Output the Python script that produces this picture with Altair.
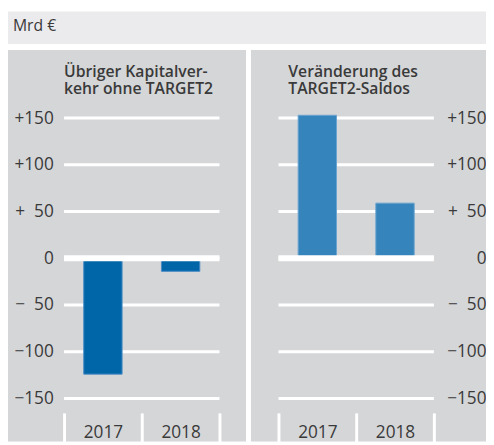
import altair as alt
import pandas as pd

# ---- data ----
years = ["2017", "2018"]
left_values = [-124, -14]      # Übriger Kapitalverkehr ohne TARGET2
right_values = [153, 59]       # Veränderung des TARGET2-Saldos
tick_values = [150, 100, 50, 0, -50, -100, -150]
tick_labels = ["+150", "+100", "+\u00a0\u00a050", "0", "\u2212\u00a0\u00a050", "\u2212100", "\u2212150"]
left_title = ["Übriger Kapitalver-", "kehr ohne TARGET2"]
right_title = ["Veränderung des", "TARGET2-Saldos"]
unit_label = "Mrd €"

FONT = "Open Sans"
TEXT = "#3a3a3a"
PANEL = "#d5d6d8"
BAND = "#ebebed"

label_expr = " : ".join(
    f"datum.value == {v} ? '{t}'" for v, t in zip(tick_values, tick_labels)
) + " : ''"

W, H = 158, 310
ydomain = [-165.5, 160.8]


def panel(values, color, stroke, orient, title, tdx, bg_x, bg_x2, extra=None):
    bars_df = pd.DataFrame({"year": years, "value": values})
    grid_df = pd.DataFrame({"value": tick_values})
    zero_df = pd.DataFrame({"value": [0]})

    x_enc = alt.X(
        "year:N",
        scale=alt.Scale(paddingInner=0, paddingOuter=0),
        axis=alt.Axis(
            title=None, domain=False, tickBand="extent", tickColor="white",
            tickWidth=3, tickSize=30, labelPadding=-19, labelAngle=0,
            labelFontSize=17.5, labelFont=FONT, labelColor=TEXT, zindex=2,
        ),
    )
    y_axis = alt.Axis(
        title=None, orient=orient, values=tick_values, labelExpr=label_expr,
        grid=False, domain=False, ticks=False,
        labelPadding=11 if orient == "left" else 53,
        labelAlign="right", labelFontSize=17.5, labelFont=FONT, labelColor=TEXT,
        zindex=2,
    )
    y_enc = alt.Y("value:Q", scale=alt.Scale(domain=ydomain, nice=False, zero=False), axis=y_axis)

    one = alt.Data(values=[{}])
    bg = alt.Chart(one).mark_rect(color=PANEL).encode(
        x=alt.value(bg_x), x2=alt.value(bg_x2), y=alt.value(-59), y2=alt.value(339)
    )
    t1 = alt.Chart(one).mark_text(
        text=title[0], align="left", baseline="alphabetic", fontSize=16,
        fontWeight=600, font=FONT, color=TEXT,
    ).encode(x=alt.value(tdx), y=alt.value(-32))
    t2 = alt.Chart(one).mark_text(
        text=title[1], align="left", baseline="alphabetic", fontSize=16,
        fontWeight=600, font=FONT, color=TEXT,
    ).encode(x=alt.value(tdx), y=alt.value(-14))
    grid = alt.Chart(grid_df).mark_rule(color="white", strokeWidth=3).encode(y=y_enc)
    bars = alt.Chart(bars_df).mark_bar(size=39, color=color, stroke=stroke, strokeWidth=1).encode(
        x=x_enc, y=y_enc
    )
    zero = alt.Chart(zero_df).mark_rule(color="white", strokeWidth=6).encode(y=y_enc)

    layers = [bg]
    if extra is not None:
        layers += extra
    layers += [t1, t2, grid, bars, zero]
    return alt.layer(*layers).properties(width=W, height=H)


one = alt.Data(values=[{}])
band = alt.Chart(one).mark_rect(color=BAND).encode(
    x=alt.value(-57), x2=alt.value(429), y=alt.value(-98), y2=alt.value(-65)
)
unit = alt.Chart(one).mark_text(
    text=unit_label, align="left", baseline="alphabetic", fontSize=16, font=FONT, color=TEXT
).encode(x=alt.value(-52), y=alt.value(-78))

left = panel(left_values, "#0066a8", "#4a8cc4", "left", left_title, 0, -57, 185,
             extra=[band, unit])
right = panel(right_values, "#3584bc", "#6aa3cf", "right", right_title, 10, -28, 211)

chart = alt.hconcat(left, right, spacing=60, bounds="flush").properties(
    padding=0, background="white"
).configure_view(stroke=None)

chart.save("out.html", embed_options={"renderer": "svg", "actions": False})
